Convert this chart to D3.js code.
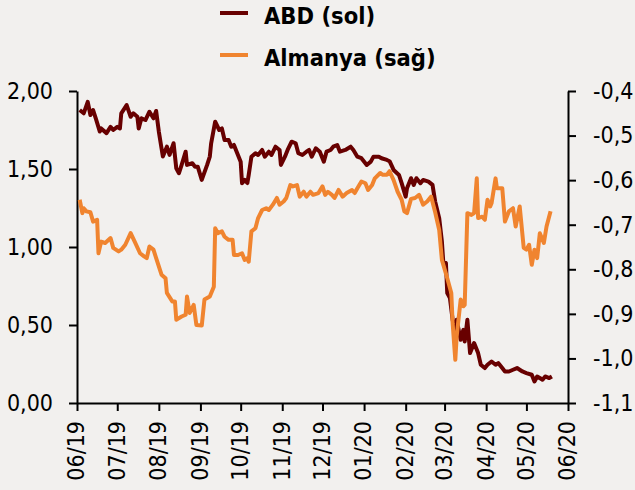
<!DOCTYPE html>
<meta charset="utf-8">
<style>
  body { margin: 0; background: #f2f0ee; }
  svg text { font-family: 'DejaVu Sans Condensed', 'DejaVu Sans', sans-serif; fill: #000; }
  .axis path, .axis line { stroke: #000; stroke-width: 2px; }
  .axis text { font-size: 23px; }
  .legend text { font-size: 23.5px; font-weight: bold; }
</style>
<script src="https://d3js.org/d3.v7.min.js"></script>
<div id="chart"></div>
<script>

// ABD 10y yield (left axis) - [date, value]
var abdSeries = [
  ["2019-06-03",1.878],["2019-06-06",1.857],["2019-06-09",1.93],["2019-06-11",1.846],["2019-06-13",1.878],
  ["2019-06-15",1.825],["2019-06-18",1.74],["2019-06-19",1.76],["2019-06-23",1.73],["2019-06-26",1.77],
  ["2019-06-28",1.75],["2019-07-01",1.77],["2019-07-03",1.76],["2019-07-04",1.857],["2019-07-08",1.91],
  ["2019-07-11",1.835],["2019-07-13",1.857],["2019-07-16",1.835],["2019-07-17",1.76],["2019-07-19",1.825],
  ["2019-07-22",1.814],["2019-07-25",1.867],["2019-07-28",1.825],["2019-07-30",1.872],["2019-08-01",1.74],
  ["2019-08-03",1.633],["2019-08-04",1.58],["2019-08-07",1.643],["2019-08-09",1.59],["2019-08-12",1.665],
  ["2019-08-14",1.505],["2019-08-16",1.473],["2019-08-18",1.526],["2019-08-21",1.611],["2019-08-22",1.526],
  ["2019-08-26",1.537],["2019-08-28",1.515],["2019-08-30",1.515],["2019-09-02",1.43],["2019-09-06",1.526],
  ["2019-09-08",1.58],["2019-09-09",1.665],["2019-09-12",1.803],["2019-09-15",1.75],["2019-09-17",1.76],
  ["2019-09-19",1.686],["2019-09-22",1.686],["2019-09-24",1.643],["2019-09-26",1.654],["2019-09-28",1.611],
  ["2019-10-01",1.547],["2019-10-02",1.409],["2019-10-04",1.43],["2019-10-06",1.41],["2019-10-07",1.462],
  ["2019-10-09",1.579],["2019-10-12",1.601],["2019-10-14",1.59],["2019-10-17",1.622],["2019-10-19",1.579],
  ["2019-10-22",1.611],["2019-10-24",1.59],["2019-10-27",1.643],["2019-10-30",1.622],["2019-10-31",1.526],
  ["2019-11-03",1.579],["2019-11-05",1.622],["2019-11-08",1.675],["2019-11-11",1.665],["2019-11-13",1.601],
  ["2019-11-16",1.59],["2019-11-19",1.611],["2019-11-21",1.622],["2019-11-23",1.579],["2019-11-26",1.633],
  ["2019-11-29",1.611],["2019-12-02",1.547],["2019-12-04",1.611],["2019-12-07",1.622],["2019-12-09",1.643],
  ["2019-12-12",1.654],["2019-12-14",1.611],["2019-12-18",1.622],["2019-12-22",1.643],["2019-12-24",1.622],
  ["2019-12-27",1.579],["2019-12-30",1.569],["2020-01-03",1.526],["2020-01-06",1.547],["2020-01-08",1.579],
  ["2020-01-12",1.579],["2020-01-14",1.569],["2020-01-18",1.558],["2020-01-20",1.55],["2020-01-23",1.494],
  ["2020-01-27",1.462],["2020-01-29",1.409],["2020-02-01",1.323],["2020-02-02",1.377],["2020-02-05",1.441],
  ["2020-02-07",1.398],["2020-02-09",1.441],["2020-02-12",1.409],["2020-02-14",1.43],["2020-02-18",1.419],
  ["2020-02-21",1.398],["2020-02-23",1.291],["2020-02-26",1.185],["2020-02-28",1.035],["2020-02-29",0.907],
  ["2020-03-02",0.897],["2020-03-03",0.704],["2020-03-05",0.672],["2020-03-07",0.533],["2020-03-09",0.448],
  ["2020-03-10",0.533],["2020-03-13",0.405],["2020-03-15",0.469],["2020-03-16",0.394],["2020-03-18",0.533],
  ["2020-03-20",0.32],["2020-03-23",0.384],["2020-03-26",0.32],["2020-03-28",0.245],["2020-03-31",0.224],
  ["2020-04-02",0.245],["2020-04-05",0.266],["2020-04-08",0.245],["2020-04-10",0.256],["2020-04-13",0.224],
  ["2020-04-15",0.202],["2020-04-18",0.202],["2020-04-21",0.213],["2020-04-24",0.224],["2020-04-28",0.202],
  ["2020-05-01",0.192],["2020-05-05",0.181],["2020-05-07",0.138],["2020-05-09",0.17],["2020-05-11",0.16],
  ["2020-05-13",0.149],["2020-05-15",0.17],["2020-05-18",0.16],["2020-05-20",0.17]
];

// Almanya 10y yield (right axis)
var deSeries = [
  ["2019-06-03",-0.644],["2019-06-05",-0.674],["2019-06-06",-0.663],["2019-06-08",-0.670],["2019-06-11",-0.672],
  ["2019-06-13",-0.693],["2019-06-16",-0.689],["2019-06-17",-0.764],["2019-06-19",-0.738],["2019-06-22",-0.741],
  ["2019-06-26",-0.730],["2019-06-28",-0.752],["2019-07-02",-0.760],["2019-07-04",-0.756],["2019-07-07",-0.745],
  ["2019-07-11",-0.719],["2019-07-14",-0.738],["2019-07-18",-0.764],["2019-07-21",-0.771],["2019-07-23",-0.775],
  ["2019-07-25",-0.749],["2019-07-28",-0.756],["2019-07-30",-0.775],["2019-08-03",-0.812],["2019-08-06",-0.820],
  ["2019-08-07",-0.853],["2019-08-11",-0.872],["2019-08-13",-0.872],["2019-08-14",-0.913],["2019-08-18",-0.906],
  ["2019-08-21",-0.902],["2019-08-22",-0.861],["2019-08-24",-0.898],["2019-08-27",-0.880],["2019-08-29",-0.925],
  ["2019-09-02",-0.926],["2019-09-04",-0.868],["2019-09-08",-0.861],["2019-09-11",-0.839],["2019-09-12",-0.708],
  ["2019-09-14",-0.719],["2019-09-17",-0.715],["2019-09-19",-0.727],["2019-09-22",-0.734],["2019-09-25",-0.734],
  ["2019-09-26",-0.768],["2019-09-29",-0.768],["2019-10-02",-0.764],["2019-10-04",-0.779],["2019-10-06",-0.775],
  ["2019-10-07",-0.783],["2019-10-09",-0.715],["2019-10-12",-0.708],["2019-10-14",-0.685],["2019-10-17",-0.667],
  ["2019-10-20",-0.663],["2019-10-22",-0.667],["2019-10-25",-0.655],["2019-10-28",-0.640],["2019-10-30",-0.655],
  ["2019-11-02",-0.648],["2019-11-04",-0.640],["2019-11-07",-0.611],["2019-11-09",-0.614],["2019-11-12",-0.611],
  ["2019-11-14",-0.637],["2019-11-17",-0.626],["2019-11-19",-0.637],["2019-11-22",-0.626],["2019-11-24",-0.633],
  ["2019-11-28",-0.629],["2019-12-01",-0.614],["2019-12-03",-0.633],["2019-12-05",-0.626],["2019-12-08",-0.633],
  ["2019-12-10",-0.640],["2019-12-13",-0.622],["2019-12-16",-0.637],["2019-12-19",-0.629],["2019-12-23",-0.622],
  ["2019-12-25",-0.629],["2019-12-27",-0.618],["2019-12-30",-0.603],["2020-01-02",-0.607],["2020-01-04",-0.622],
  ["2020-01-07",-0.611],["2020-01-09",-0.596],["2020-01-13",-0.584],["2020-01-15",-0.588],["2020-01-18",-0.588],
  ["2020-01-20",-0.580],["2020-01-23",-0.600],["2020-01-26",-0.626],["2020-01-29",-0.644],["2020-01-31",-0.670],
  ["2020-02-02",-0.674],["2020-02-05",-0.642],["2020-02-08",-0.640],["2020-02-11",-0.633],["2020-02-14",-0.655],
  ["2020-02-17",-0.648],["2020-02-20",-0.637],["2020-02-23",-0.672],["2020-02-26",-0.712],["2020-02-28",-0.779],
  ["2020-03-03",-0.820],["2020-03-06",-0.853],["2020-03-07",-0.921],["2020-03-09",-1.003],["2020-03-10",-0.951],
  ["2020-03-13",-0.868],["2020-03-15",-0.883],["2020-03-16",-0.880],["2020-03-18",-0.674],["2020-03-21",-0.678],
  ["2020-03-23",-0.674],["2020-03-25",-0.596],["2020-03-26",-0.685],["2020-03-29",-0.682],["2020-03-31",-0.689],
  ["2020-04-02",-0.644],["2020-04-04",-0.659],["2020-04-05",-0.652],["2020-04-08",-0.596],["2020-04-09",-0.618],
  ["2020-04-13",-0.618],["2020-04-15",-0.693],["2020-04-18",-0.670],["2020-04-21",-0.663],["2020-04-23",-0.704],
  ["2020-04-26",-0.659],["2020-04-29",-0.752],["2020-05-01",-0.756],["2020-05-03",-0.745],["2020-05-05",-0.790],
  ["2020-05-07",-0.756],["2020-05-09",-0.775],["2020-05-11",-0.719],["2020-05-14",-0.741],["2020-05-16",-0.704],
  ["2020-05-19",-0.670]
];

var leftTicks = [0, 0.5, 1, 1.5, 2];
var rightTicks = [-1.1, -1.0, -0.9, -0.8, -0.7, -0.6, -0.5, -0.4];
var legendLabels = ["ABD (sol)", "Almanya (sağ)"];
var colors = ["#680000", "#f0842f"];

var W = 635, H = 490;
var margin = {top: 91, right: 67, bottom: 87, left: 77};
var width = W - margin.left - margin.right,
    height = H - margin.top - margin.bottom;

var parse = d3.timeParse("%Y-%m-%d");
var loc = d3.formatLocale({decimal: ",", thousands: ".", grouping: [3], currency: ["", ""], minus: "-"});

var svg = d3.select("#chart").append("svg")
    .attr("width", W).attr("height", H)
    .style("background", "#f2f0ee");

var g = svg.append("g")
    .attr("transform", "translate(" + margin.left + "," + margin.top + ")");

var x = d3.scaleTime()
    .domain([parse("2019-06-01"), parse("2020-06-01")])
    .range([0, width]);
var yL = d3.scaleLinear().domain([0, 2]).range([height, 0]);
var yR = d3.scaleLinear().domain([-1.1, -0.4]).range([height, 0]);

// axes
var xAxis = g.append("g").attr("class", "axis")
    .attr("transform", "translate(0," + height + ")")
    .call(d3.axisBottom(x).ticks(d3.timeMonth.every(1)).tickFormat(d3.timeFormat("%m/%y")).tickSize(8).tickSizeOuter(0));
xAxis.selectAll("text")
    .attr("transform", "rotate(-90)")
    .attr("x", -18).attr("y", 0).attr("dy", "0.3em")
    .style("text-anchor", "end");

g.append("g").attr("class", "axis")
    .call(d3.axisLeft(yL).tickValues(leftTicks).tickFormat(loc.format(".2f")).tickSize(8).tickPadding(16).tickSizeOuter(0));

g.append("g").attr("class", "axis")
    .attr("transform", "translate(" + width + ",0)")
    .call(d3.axisRight(yR).tickValues(rightTicks).tickFormat(loc.format(".1f")).tickSize(8).tickPadding(17).tickSizeOuter(0));

// lines
var lineL = d3.line()
    .x(function (d) { return x(parse(d[0])); })
    .y(function (d) { return yL(d[1]); });
var lineR = d3.line()
    .x(function (d) { return x(parse(d[0])); })
    .y(function (d) { return yR(d[1]); });

g.append("path").datum(abdSeries)
    .attr("d", lineL)
    .attr("fill", "none").attr("stroke", colors[0])
    .attr("stroke-width", 4).attr("stroke-linejoin", "round");

g.append("path").datum(deSeries)
    .attr("d", lineR)
    .attr("fill", "none").attr("stroke", colors[1])
    .attr("stroke-width", 4).attr("stroke-linejoin", "round");

// legend
var legend = svg.append("g").attr("class", "legend");
legendLabels.forEach(function (lab, i) {
  var yy = 13 + i * 42;
  legend.append("line")
    .attr("x1", 220).attr("x2", 248)
    .attr("y1", yy).attr("y2", yy)
    .attr("stroke", colors[i]).attr("stroke-width", 4);
  legend.append("text")
    .attr("x", 264).attr("y", yy + 11)
    .text(lab);
});

</script>
